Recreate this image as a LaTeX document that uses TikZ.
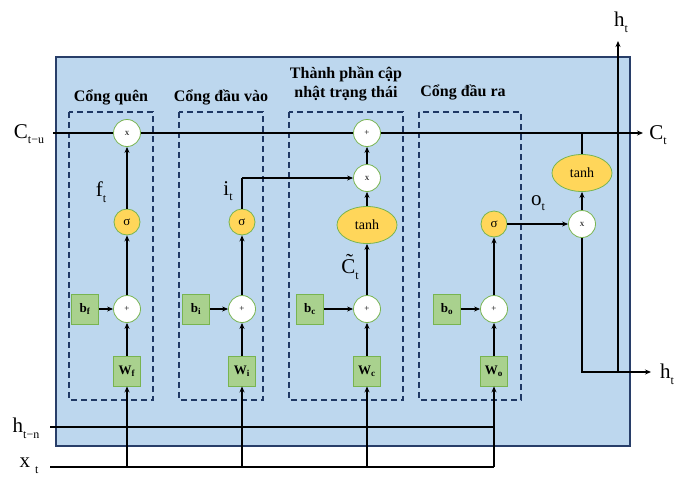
\documentclass[tikz,border=0pt]{standalone}
\usepackage{fontspec}
\setmainfont{Liberation Serif}
\usetikzlibrary{arrows.meta,shapes.geometric}
\definecolor{bgblue}{RGB}{189,215,238}
\definecolor{framec}{RGB}{40,62,105}
\definecolor{dashc}{RGB}{31,56,100}
\definecolor{gborder}{RGB}{120,180,80}
\definecolor{gfill}{RGB}{169,209,142}
\definecolor{yfill}{RGB}{255,214,90}
\newcommand{\lsub}[1]{\raisebox{-0.6ex}{\fontsize{12}{12}\selectfont #1}}
\begin{document}
\begin{tikzpicture}[x=1pt,y=-1pt,
  op/.style={circle, draw=gborder, fill=white, minimum size=27pt, inner sep=0pt, line width=0.8pt, font=\fontsize{9}{9}\selectfont},
  sig/.style={circle, draw=gborder, fill=yfill, minimum size=26pt, inner sep=0pt, line width=0.8pt, font=\fontsize{13}{13}\selectfont},
  tanhn/.style={ellipse, draw=gborder, fill=yfill, minimum width=60pt, minimum height=37pt, inner sep=0pt, line width=0.8pt, font=\fontsize{14}{14}\selectfont},
  param/.style={rectangle, draw=gborder, fill=gfill, minimum width=27pt, minimum height=30pt, inner sep=0pt, line width=0.8pt, font=\bfseries\fontsize{13}{13}\selectfont},
  gatebox/.style={draw=dashc, dash pattern=on 6pt off 4pt, line width=1.3pt},
  wire/.style={line width=1.8pt},
  conn/.style={line width=1.8pt, -{Stealth[length=6pt,width=5pt]}},
  lab/.style={font=\fontsize{21}{21}\selectfont, inner sep=0pt},
  title/.style={font=\bfseries\fontsize{16}{19}\selectfont, align=center, inner sep=0pt}
]
\useasboundingbox (0,0) rectangle (682,480);
% main frame
\draw[fill=bgblue, draw=framec, line width=1.5pt] (56,57) rectangle (630,446);
% gate boxes
\draw[gatebox] (69,112) rectangle (153,400);
\draw[gatebox] (179,112) rectangle (263,400);
\draw[gatebox] (289,112) rectangle (403,400);
\draw[gatebox] (419,112) rectangle (521,400);
% titles
\node[title] (t1) at (111,97) {Cổng quên};
\node[title] (t2) at (221,97) {Cổng đầu vào};
\node[title] (t3) at (346,84) {Thành phần cập\\nhật trạng thái};
\node[title] (t4) at (463,92) {Cổng đầu ra};
% column 1
\node[op] (mf) at (127,133) {x};
\node[sig] (sf) at (127,222) {σ};
\node[op] (af) at (127,309) {+};
\node[param] (wf) at (127,371) {W\textsubscript{f}};
\node[param] (bf) at (85,309) {b\textsubscript{f}};
% column 2
\node[sig] (si) at (242,222) {σ};
\node[op] (ai) at (242,309) {+};
\node[param] (wi) at (242,371) {W\textsubscript{i}};
\node[param] (bi) at (196,309) {b\textsubscript{i}};
% column 3
\node[op] (pc) at (367,133) {+};
\node[op] (mc) at (367,178) {x};
\node[tanhn] (tc) at (367,225) {tanh};
\node[op] (ac) at (367,309) {+};
\node[param] (wc) at (367,371) {W\textsubscript{c}};
\node[param] (bc) at (310,309) {b\textsubscript{c}};
% column 4
\node[sig] (so) at (494,224) {σ};
\node[op] (ao) at (494,309) {+};
\node[param] (wo) at (494,371) {W\textsubscript{o}};
\node[param] (bo) at (447,309) {b\textsubscript{o}};
% output
\node[op] (mo) at (582,224) {x};
\node[tanhn] (to) at (582,173) {tanh};
% coordinates
\coordinate (cin) at (53,133);
\coordinate (cout) at (643,133);
\coordinate (jc) at (582,133);
\coordinate (hb) at (582,372);
\coordinate (ju) at (618,372);
\coordinate (hout) at (651,372);
\coordinate (htop) at (618,41);
\coordinate (hin) at (50,427);
\coordinate (xin) at (50,467);
\coordinate (ic) at (si.north |- mc.west);
% cell state line
\draw[wire] (cin) -- (mf.west);
\draw[wire] (mf.east) -- (pc.west);
\draw[conn] (pc.east) -- (cout);
\draw[wire] (jc) -- (to.north);
\draw[conn] (mo.north) -- (to.south);
\draw[wire] (mo.south) -- (hb) -- (ju);
\draw[conn] (ju) -- (hout);
\draw[conn] (ju) -- (htop);
\draw[conn] (so.east) -- (mo.west);
% inner arrows
\draw[conn] (sf.north) -- (mf.south);
\draw[conn] (af.north) -- (sf.south);
\draw[conn] (wf.north) -- (af.south);
\draw[conn] (bf.east) -- (af.west);
\draw[wire] (si.north) -- (ic);
\draw[conn] (ic) -- (mc.west);
\draw[conn] (ai.north) -- (si.south);
\draw[conn] (wi.north) -- (ai.south);
\draw[conn] (bi.east) -- (ai.west);
\draw[conn] (mc.north) -- (pc.south);
\draw[conn] (tc.north) -- (mc.south);
\draw[conn] (ac.north) -- (tc.south);
\draw[conn] (wc.north) -- (ac.south);
\draw[conn] (bc.east) -- (ac.west);
\draw[conn] (ao.north) -- (so.south);
\draw[conn] (wo.north) -- (ao.south);
\draw[conn] (bo.east) -- (ao.west);
% inputs
\draw[wire] (hin) -- (wo.south |- hin);
\draw[wire] (xin) -- (wo.south |- xin);
\draw[conn] (wf.south |- xin) -- (wf.south);
\draw[conn] (wi.south |- xin) -- (wi.south);
\draw[conn] (wc.south |- xin) -- (wc.south);
\draw[conn] (wo.south |- xin) -- (wo.south);
% labels
\node[lab] (lcin) at (29,134) {C\lsub{t−u}};
\node[lab] (lcout) at (658,135) {C\lsub{t}};
\node[lab] (lhin) at (26,428) {h\lsub{t−n}};
\node[lab] (lxin) at (29,466) {x\hspace{5pt}\lsub{t}};
\node[lab] (lhtop) at (621,22) {h\lsub{t}};
\node[lab] (lhout) at (667,374) {h\lsub{t}};
\node[lab] (lft) at (101,192) {f\lsub{t}};
\node[lab] (lit) at (228,191) {i\lsub{t}};
\node[lab] (lct) at (350,267) {\~{C}\lsub{t}};
\node[lab] (lot) at (538,203) {o\lsub{t}};
\end{tikzpicture}
\end{document}
